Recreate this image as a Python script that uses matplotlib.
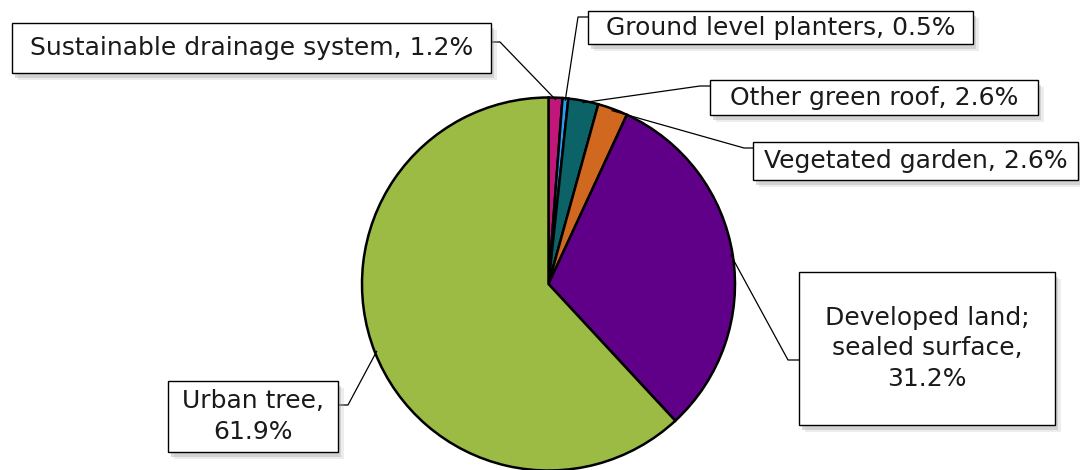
import numpy as np
import matplotlib
matplotlib.use("Agg")
import matplotlib.pyplot as plt
from matplotlib.patches import Rectangle
import matplotlib.patheffects as pe

categories = ["Sustainable drainage system", "Ground level planters", "Other green roof",
              "Vegetated garden", "Developed land;\nsealed surface", "Urban tree"]
values = [1.2, 0.5, 2.6, 2.6, 31.2, 61.9]
colors = ["#C2177A", "#2A9DF0", "#0B6368", "#D0691F", "#600089", "#9BBB45"]

# box layout in pixel coords (x0, y0_top, x1, y1_bottom), leader elbow anchors
boxes = [(12, 23, 491, 73), (588, 11, 973, 44), (710, 80, 1038, 115),
         (753, 142, 1078, 180), (799, 272, 1055, 425), (168, 381, 338, 452)]
anchors = [((491, 42), 500), ((588, 17), 578), ((710, 86), 700),
           ((753, 148), 744), ((799, 360), 788), ((338, 405), 348)]

W, H = 1080, 470
fig = plt.figure(figsize=(W / 100, H / 100), dpi=100)
ax = fig.add_axes([0, 0, 1, 1])
ax.set_aspect("equal")

cx, cy, r = 548.5, H - 284, 186.5
wedges, _ = ax.pie(values, colors=colors, startangle=90, counterclock=False,
                   center=(cx, cy), radius=r, frame=True,
                   wedgeprops=dict(edgecolor="black", linewidth=1.8))
ax.set_xlim(0, W)
ax.set_ylim(0, H)
ax.axis("off")

plt.rcParams['font.family'] = ['DejaVu Sans']

shadow = [pe.SimplePatchShadow(offset=(2.5, -3.5), shadow_rgbFace="#9a9a9a", alpha=0.35),
          pe.SimplePatchShadow(offset=(4, -5), shadow_rgbFace="#bbbbbb", alpha=0.25),
          pe.Normal()]

for i, (cat, v) in enumerate(zip(categories, values)):
    w = wedges[i]
    mid = np.deg2rad((w.theta1 + w.theta2) / 2)
    px, py = cx + r * 0.99 * np.cos(mid), cy + r * 0.99 * np.sin(mid)
    (axp, ayp), ex = anchors[i]
    ax.plot([axp, ex, px], [H - ayp, H - ayp, py], color="black", lw=0.9, zorder=3)
    x0, yt, x1, yb = boxes[i]
    rect = Rectangle((x0, H - yb), x1 - x0, yb - yt, facecolor="white", edgecolor="black",
                     lw=1.0, zorder=4, path_effects=shadow)
    ax.add_patch(rect)
    if i >= 4:
        label = f"{cat},\n{v}%"
    else:
        label = f"{cat}, {v}%"
    ax.text((x0 + x1) / 2, H - (yt + yb) / 2, label, ha="center", va="center",
            fontsize=18, linespacing=1.32, zorder=5, color="#1a1a1a")

fig.savefig("out.png", dpi=100)
